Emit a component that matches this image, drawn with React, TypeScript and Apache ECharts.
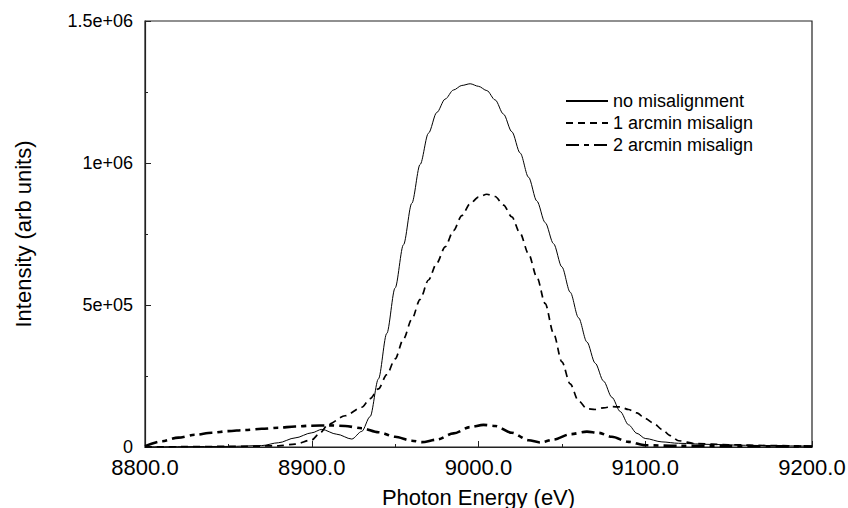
import React, { useEffect, useRef } from "react";
import * as echarts from "echarts";

const solidX = [8800, 8850, 8870, 8880, 8890, 8900, 8906, 8915, 8924, 8930, 8935, 8940, 8945, 8950, 8955, 8960, 8965, 8970, 8975, 8980, 8985, 8990, 8995, 9000, 9005, 9010, 9015, 9020, 9025, 9030, 9035, 9040, 9045, 9050, 9055, 9060, 9065, 9070, 9075, 9080, 9085, 9090, 9095, 9100, 9110, 9120, 9140, 9160, 9180, 9200];
const solidY = [0, 2000, 5000, 15000, 32000, 50000, 62000, 45000, 28000, 55000, 107000, 240000, 400000, 560000, 712000, 858000, 995000, 1105000, 1178000, 1225000, 1257000, 1273000, 1279000, 1270000, 1255000, 1222000, 1172000, 1110000, 1035000, 950000, 866000, 790000, 716000, 634000, 545000, 455000, 370000, 295000, 232000, 175000, 125000, 78000, 48000, 30000, 18000, 13000, 9000, 6000, 4000, 3000];

const dashX = [8800, 8850, 8880, 8890, 8900, 8905, 8910, 8920, 8930, 8935, 8940, 8945, 8950, 8955, 8960, 8965, 8970, 8975, 8980, 8985, 8990, 8995, 9000, 9005, 9010, 9015, 9020, 9025, 9030, 9035, 9040, 9045, 9050, 9055, 9060, 9065, 9070, 9075, 9080, 9085, 9090, 9095, 9100, 9105, 9110, 9115, 9120, 9130, 9150, 9175, 9200];
const dashY = [0, 2000, 4000, 10000, 25000, 50000, 80000, 110000, 140000, 170000, 205000, 255000, 310000, 380000, 450000, 520000, 588000, 648000, 705000, 762000, 815000, 857000, 880000, 890000, 882000, 852000, 810000, 752000, 680000, 598000, 505000, 400000, 300000, 222000, 162000, 135000, 132000, 138000, 142000, 141000, 132000, 120000, 100000, 84000, 62000, 40000, 22000, 12000, 8000, 5000, 2000];

const ddX = [8800, 8810, 8820, 8830, 8840, 8850, 8860, 8870, 8880, 8890, 8900, 8910, 8920, 8930, 8940, 8950, 8960, 8966, 8975, 8985, 8995, 9003, 9010, 9020, 9030, 9037, 9045, 9055, 9065, 9072, 9080, 9090, 9100, 9120, 9150, 9200];
const ddY = [3000, 20000, 33000, 43000, 50000, 56000, 60000, 64000, 68000, 72000, 75000, 76000, 74000, 66000, 52000, 36000, 22000, 17000, 26000, 48000, 70000, 78000, 74000, 50000, 24000, 16000, 26000, 45000, 54000, 50000, 36000, 18000, 6000, 4000, 3000, 2000];

const seriesNames = ["no misalignment", "1 arcmin misalign", "2 arcmin misalign"];
const yTickLabels: Record<number, string> = { 0: "0", 500000: "5e+05", 1000000: "1e+06", 1500000: "1.5e+06" };

const zip = (xs: number[], ys: number[]) => xs.map((x, i) => [x, ys[i]]);

export default function App() {
  const ref = useRef<HTMLDivElement>(null);
  useEffect(() => {
    if (!ref.current) return;
    const chart = echarts.init(ref.current, undefined, { renderer: "svg" });
    const font = "Liberation Sans, Arial, Helvetica, sans-serif";
    chart.setOption({
      animation: false,
      backgroundColor: "#ffffff",
      textStyle: { fontFamily: font, color: "#000" },
      grid: {
        left: 145, right: 36, top: 21, bottom: 61,
        containLabel: false,
        outerBoundsMode: "none",
        show: true, borderColor: "#222", borderWidth: 1.2, backgroundColor: "transparent",
      },
      legend: {
        orient: "vertical",
        left: 560,
        top: 87,
        itemWidth: 42,
        itemHeight: 18,
        itemGap: 4,
        itemStyle: { opacity: 0 },
        textStyle: { fontSize: 18, color: "#000", fontFamily: font },
        data: seriesNames,
      },
      xAxis: {
        type: "value",
        min: 8800, max: 9200, interval: 100,
        name: "Photon Energy (eV)",
        nameLocation: "middle",
        nameGap: 39,
        nameTextStyle: { fontSize: 22, color: "#000", fontFamily: font },
        axisLine: { show: true, onZero: false, lineStyle: { color: "#222", width: 1.2 } },
        axisTick: { show: true, inside: true, length: 6, lineStyle: { color: "#222" } },
        minorTick: { show: true, splitNumber: 2, length: 3, lineStyle: { color: "#222" } },
        axisLabel: { fontSize: 22, lineHeight: 22, color: "#000", margin: 9, fontFamily: font, formatter: (v: number) => v.toFixed(1) },
        splitLine: { show: false },
      },
      yAxis: {
        type: "value",
        min: 0, max: 1500000, interval: 500000,
        name: "Intensity (arb units)",
        nameLocation: "middle",
        nameGap: 111,
        nameTextStyle: { fontSize: 22, color: "#000", fontFamily: font },
        axisLine: { show: true, lineStyle: { color: "#222", width: 1.2 } },
        axisTick: { show: true, inside: true, length: 6, lineStyle: { color: "#222" } },
        minorTick: { show: true, splitNumber: 2, length: 3, lineStyle: { color: "#222" } },
        axisLabel: { fontSize: 18, lineHeight: 16, color: "#000", margin: 12, fontFamily: font, formatter: (v: number) => yTickLabels[v] ?? String(v) },
        splitLine: { show: false },
      },
      series: [
        {
          name: seriesNames[0], type: "line", data: zip(solidX, solidY),
          showSymbol: false, symbol: "none", smooth: 0.3, smoothMonotone: "x",
          lineStyle: { color: "#000", width: 1, type: "solid" },
          itemStyle: { color: "#000" },
        },
        {
          name: seriesNames[1], type: "line", data: zip(dashX, dashY),
          showSymbol: false, symbol: "none", smooth: 0.3, smoothMonotone: "x",
          lineStyle: { color: "#000", width: 1.7, type: [7, 5] },
          itemStyle: { color: "#000" },
        },
        {
          name: seriesNames[2], type: "line", data: zip(ddX, ddY),
          showSymbol: false, symbol: "none", smooth: 0.3, smoothMonotone: "x",
          lineStyle: { color: "#000", width: 2.6, type: [13, 5, 5, 5] },
          itemStyle: { color: "#000" },
        },
      ],
    });
    return () => chart.dispose();
  }, []);
  return <div ref={ref} style={{ position: "fixed", left: 0, top: 0, width: 848, height: 508, background: "#fff" }} />;
}
